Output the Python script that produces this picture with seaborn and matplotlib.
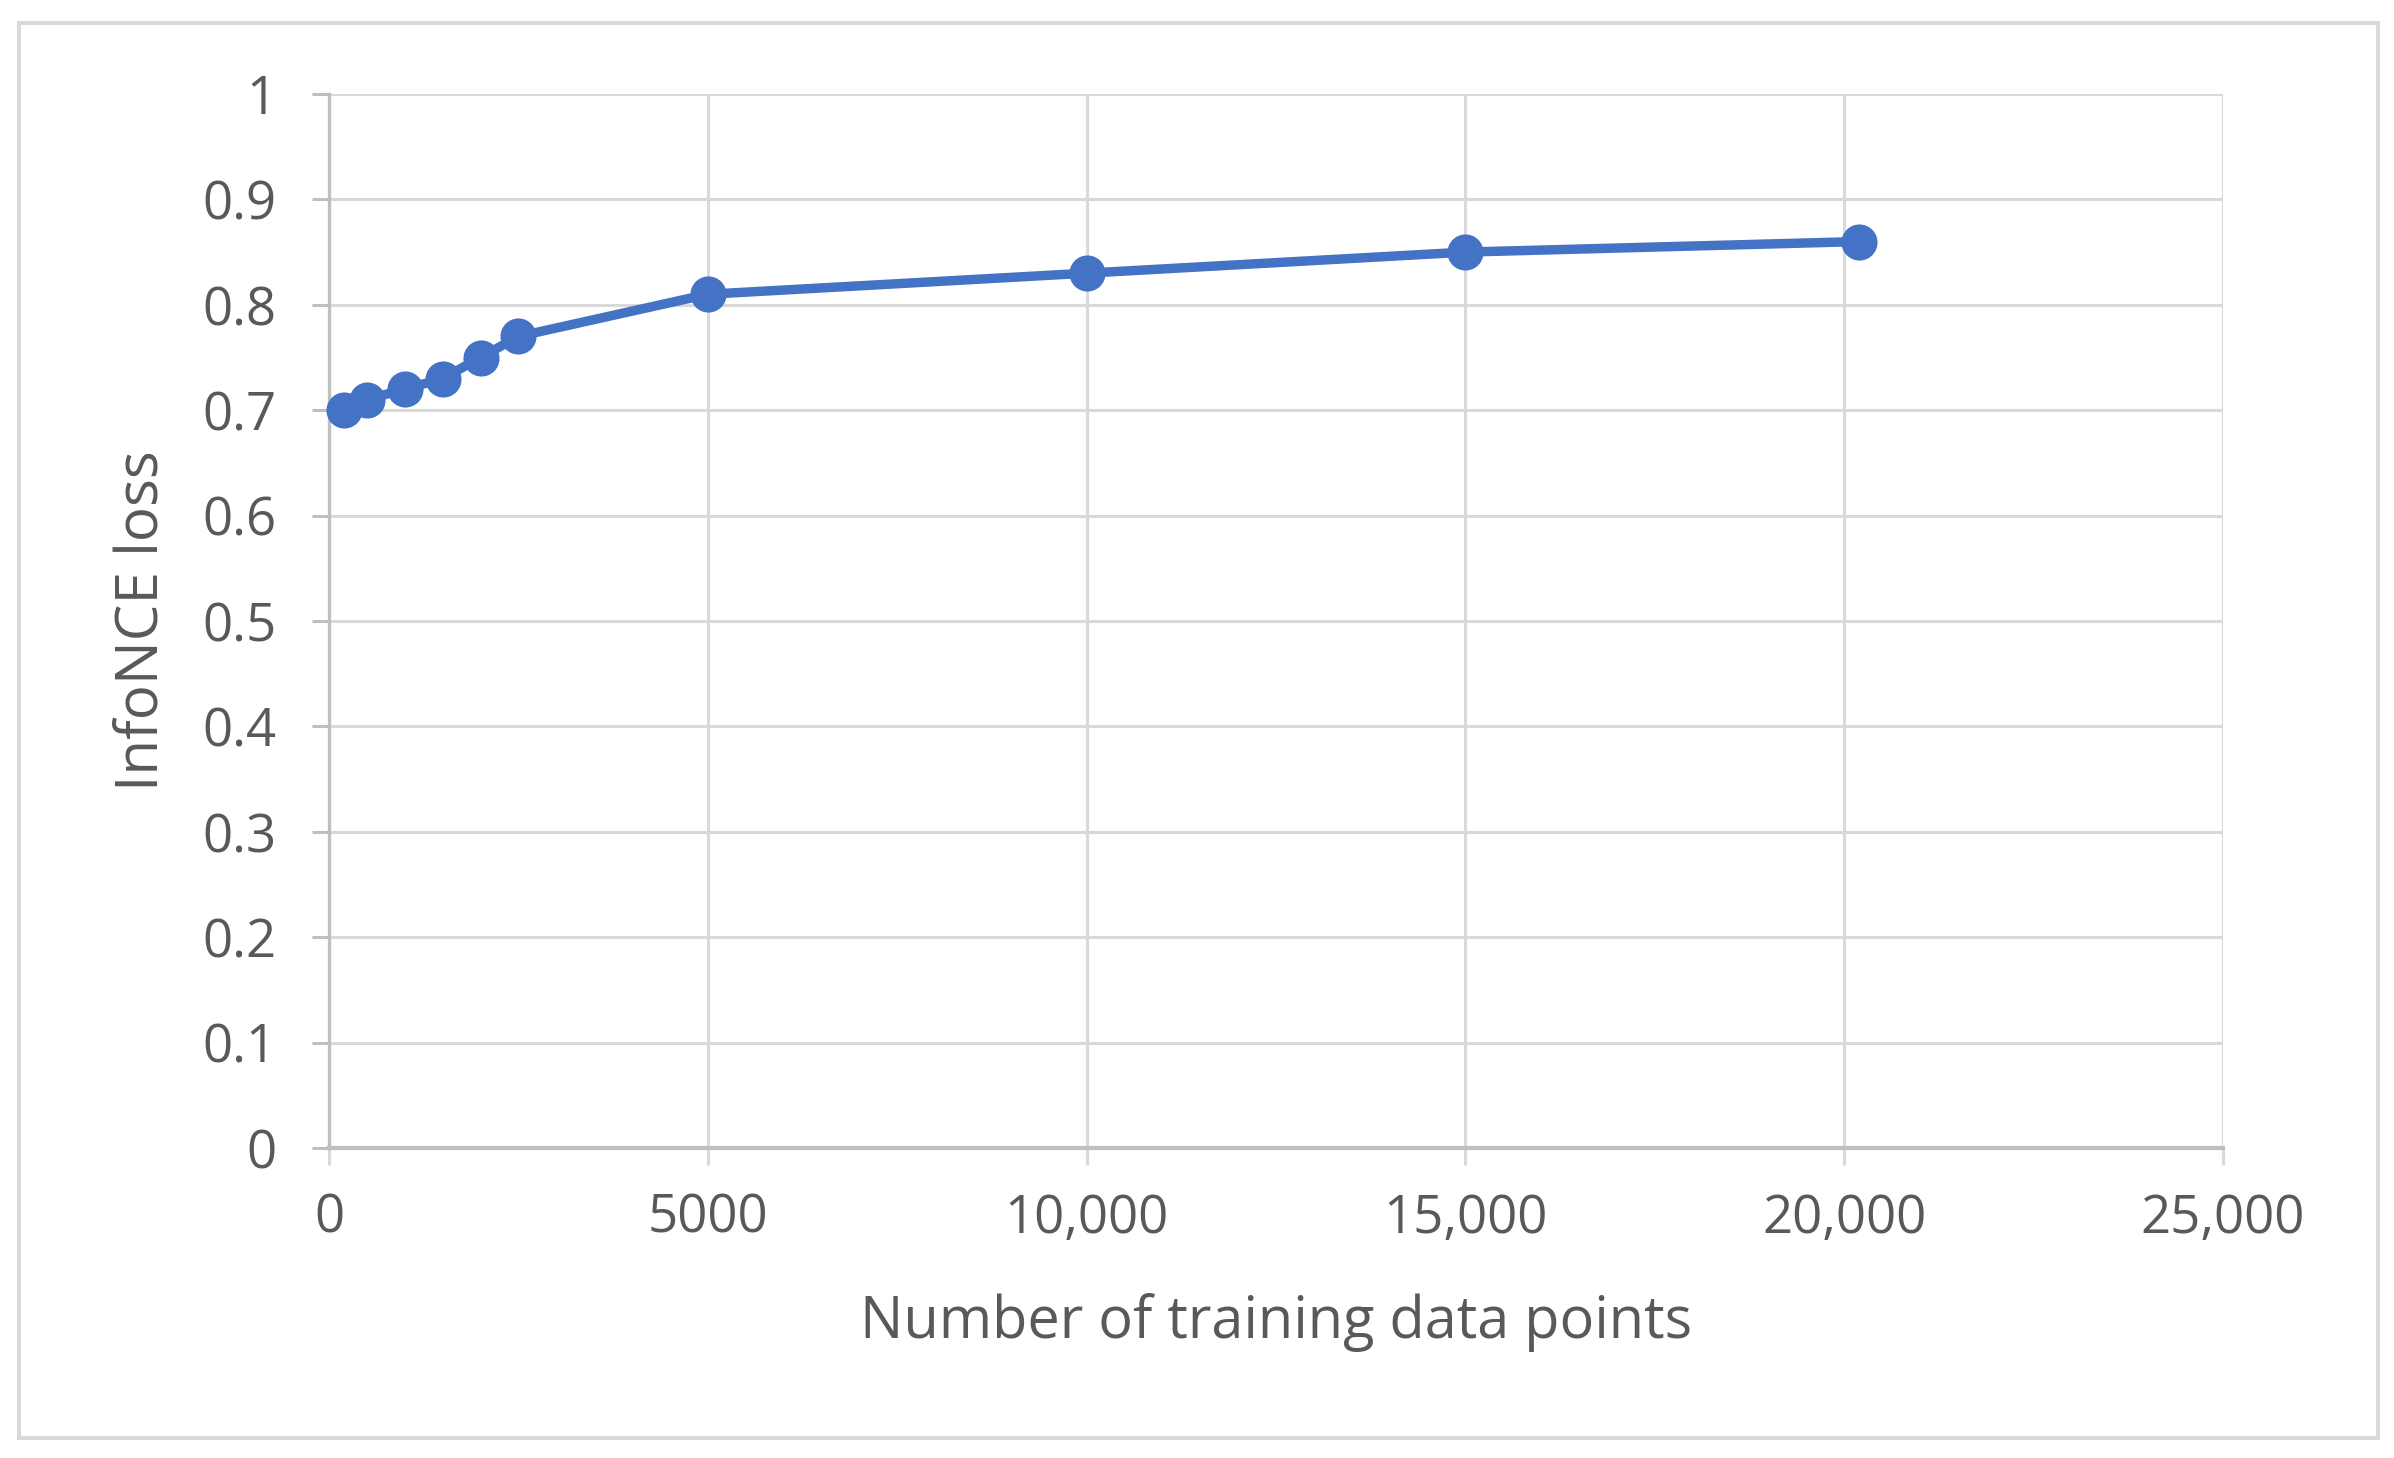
import matplotlib
matplotlib.use("Agg")
import matplotlib.pyplot as plt
import seaborn as sns
import pandas as pd
from matplotlib.patches import Rectangle

# data
n_points = [200, 500, 1000, 1500, 2000, 2500, 5000, 10000, 15000, 20200]
loss = [0.70, 0.71, 0.72, 0.73, 0.75, 0.77, 0.81, 0.83, 0.85, 0.86]

x_ticks = [0, 5000, 10000, 15000, 20000, 25000]
x_tick_labels = ['0', '5000', '10,000', '15,000', '20,000', '25,000']
y_ticks = [0, 0.1, 0.2, 0.3, 0.4, 0.5, 0.6, 0.7, 0.8, 0.9, 1.0]
y_tick_labels = ['0', '0.1', '0.2', '0.3', '0.4', '0.5', '0.6', '0.7', '0.8', '0.9', '1']

df = pd.DataFrame({'n': n_points, 'loss': loss})

sns.set_theme(style="white")
plt.rcParams["font.family"] = ["Open Sans", "DejaVu Sans"]

txt = '#595959'
grid = '#D9D9D9'
axc = '#BFBFBF'
blue = '#4472C4'

W, H = 2394, 1458
fig = plt.figure(figsize=(W / 100, H / 100), dpi=100)
fig.patch.set_facecolor('white')

# plot area in pixels: x 329..2223, y 94..1148
left, right, top, bottom = 329, 2223, 94, 1148
ax = fig.add_axes([left / W, 1 - bottom / H, (right - left) / W, (bottom - top) / H])

sns.lineplot(data=df, x='n', y='loss', ax=ax, color=blue, linewidth=6.8,
             marker='o', markersize=26, markeredgewidth=0, zorder=5, clip_on=False)

ax.set_xlim(0, 25000)
ax.set_ylim(0, 1)
ax.set_xticks(x_ticks)
ax.set_xticklabels(x_tick_labels)
ax.set_yticks(y_ticks)
ax.set_yticklabels(y_tick_labels)

ax.grid(True, color=grid, linewidth=2.2)
ax.set_axisbelow(True)
for s in ['top', 'right']:
    ax.spines[s].set_visible(False)
ax.spines['left'].set_color(axc)
ax.spines['left'].set_linewidth(2.4)
ax.spines['bottom'].set_color(axc)
ax.spines['bottom'].set_linewidth(3)

ax.tick_params(axis='y', left=True, length=12, width=2.2, color=axc,
               pad=26, labelsize=38, labelcolor=txt)
ax.tick_params(axis='x', bottom=True, length=12, width=2.2, color=grid,
               pad=20, labelsize=38, labelcolor=txt)

ax.set_xlabel('Number of training data points', fontsize=41.5, color=txt)
ax.set_ylabel('InfoNCE loss', fontsize=42, color=txt)
ax.xaxis.label.set_va('baseline')
ax.xaxis.set_label_coords(0.5, (bottom - 1338) / (bottom - top))
ax.yaxis.label.set_va('center')
ax.yaxis.set_label_coords((143 - left) / (right - left), 0.5)

# outer chart border
fig.patches.append(Rectangle((19 / W, 1 - 1438 / H), (2378 - 19) / W, (1438 - 23) / H,
                             transform=fig.transFigure, fill=False,
                             edgecolor=grid, linewidth=2.9))

fig.savefig('out.png', dpi=100, facecolor='white')
